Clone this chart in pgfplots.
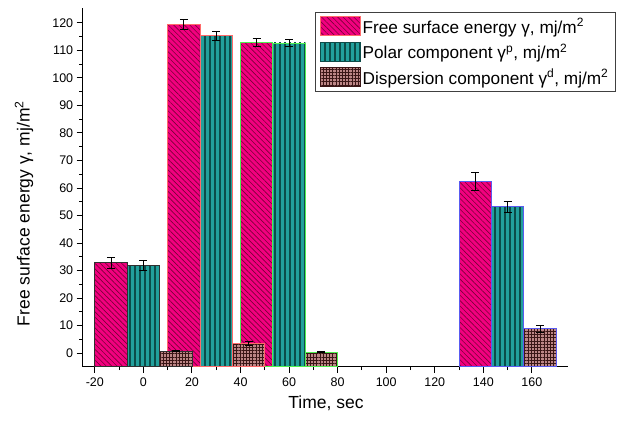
\documentclass[border=0pt]{standalone}
\usepackage{fontspec}
\setmainfont{Liberation Sans}
\usepackage{pgfplots}
\pgfplotsset{compat=1.18}
\usetikzlibrary{patterns.meta}
\definecolor{pinkc}{HTML}{F2007F}
\definecolor{pinkl}{HTML}{7A0038}
\definecolor{tealc}{HTML}{22A09C}
\definecolor{teall}{HTML}{0C4C49}
\definecolor{brownc}{HTML}{BC8686}
\definecolor{brownl}{HTML}{3A1616}
\definecolor{g1}{HTML}{303030}
\definecolor{g2}{HTML}{FF6A6A}
\definecolor{g3}{HTML}{50F050}
\definecolor{g4}{HTML}{5A5AF0}
\tikzset{
  pinkbar/.style={preaction={fill=pinkc}, pattern={Lines[angle=-45,distance=3.8pt,line width=0.65pt]}, pattern color=pinkl, line width=0.9pt},
  tealbar/.style={preaction={fill=tealc}, pattern={Lines[angle=90,distance=5pt,line width=1.2pt]}, pattern color=teall, line width=0.9pt},
  brownbar/.style={preaction={fill=brownc}, pattern={Hatch[angle=0,distance=3.2pt,line width=0.9pt]}, pattern color=brownl, line width=0.9pt}
}
\begin{document}
\begin{tikzpicture}
\useasboundingbox (-82.7pt,-54.3pt) rectangle (543.3pt,366.7pt);
\begin{axis}[
  at={(0,0)}, anchor=south west,
  scale only axis, width=485.6pt, height=358.4pt,
  xmin=-25, xmax=175, ymin=-4.9, ymax=125.3,
  axis lines=left, axis line style={-, line width=1.2pt},
  xtick={-20,0,...,160}, minor x tick num=1,
  ytick={0,10,...,120}, minor y tick num=1,
  tick align=outside, major tick length=6pt, minor tick length=3.5pt,
  every tick/.style={black, line width=1pt},
  tick label style={font=\fontsize{12.5}{14}\selectfont},
  xticklabel style={yshift=-2pt},
  /pgf/number format/assume math mode=true,
  xlabel={Time, sec},
  ylabel={Free surface energy γ, mj/m\textsuperscript{2}},
  label style={font=\fontsize{17.5}{20}\selectfont},
  xlabel style={at={(axis description cs:0.501,-0.101)}, anchor=center},
  ylabel style={at={(axis description cs:-0.121,0.427)}, anchor=center},
  legend style={at={(1.098,0.99)}, anchor=north east, draw=black!75, line width=1pt,
    font=\fontsize{17.2}{20}\selectfont, inner xsep=5pt, inner ysep=4pt, row sep=5pt,
    /tikz/every even column/.append style={column sep=4pt}},
  legend cell align=left,
  legend image code/.code={\draw[#1, line width=0.6pt] (0pt,-9pt) rectangle (40pt,10pt);},
]
\addlegendimage{pinkbar, draw=g2}
\addlegendentry{Free surface energy γ, mj/m\textsuperscript{2}}
\addlegendimage{tealbar, draw=teall}
\addlegendentry{Polar component γ\textsuperscript{p}, mj/m\textsuperscript{2}}
\addlegendimage{brownbar, draw=brownl}
\addlegendentry{Dispersion component γ\textsuperscript{d}, mj/m\textsuperscript{2}}

% free surface energy
\addplot[forget plot, pinkbar, draw=g1] coordinates {(-20,-4.9) (-20,32.9) (-6.7,32.9) (-6.7,-4.9)} -- cycle;
\addplot[forget plot, pinkbar, draw=g2] coordinates {(10,-4.9) (10,119.4) (23.3,119.4) (23.3,-4.9)} -- cycle;
\addplot[forget plot, pinkbar, draw=g3] coordinates {(40,-4.9) (40,113.0) (53.3,113.0) (53.3,-4.9)} -- cycle;
\addplot[forget plot, pinkbar, draw=g4] coordinates {(130,-4.9) (130,62.5) (143.3,62.5) (143.3,-4.9)} -- cycle;
% polar component
\addplot[forget plot, tealbar, draw=g1] coordinates {(-6.7,-4.9) (-6.7,31.9) (6.7,31.9) (6.7,-4.9)} -- cycle;
\addplot[forget plot, tealbar, draw=g2] coordinates {(23.3,-4.9) (23.3,115.3) (36.7,115.3) (36.7,-4.9)} -- cycle;
\addplot[forget plot, tealbar, draw=g3] coordinates {(53.3,-4.9) (53.3,112.7) (66.7,112.7) (66.7,-4.9)} -- cycle;
\addplot[forget plot, tealbar, draw=g4] coordinates {(143.3,-4.9) (143.3,53.2) (156.7,53.2) (156.7,-4.9)} -- cycle;
% dispersion component
\addplot[forget plot, brownbar, draw=g1] coordinates {(6.7,-4.9) (6.7,0.8) (20,0.8) (20,-4.9)} -- cycle;
\addplot[forget plot, brownbar, draw=g2] coordinates {(36.7,-4.9) (36.7,3.6) (50,3.6) (50,-4.9)} -- cycle;
\addplot[forget plot, brownbar, draw=g3] coordinates {(66.7,-4.9) (66.7,0.4) (80,0.4) (80,-4.9)} -- cycle;
\addplot[forget plot, brownbar, draw=g4] coordinates {(156.7,-4.9) (156.7,8.9) (170,8.9) (170,-4.9)} -- cycle;

% error bars
\addplot[forget plot, draw=none, mark=none,
  error bars/.cd, y dir=both, y explicit,
  error bar style={draw=black, line width=0.7pt},
  error mark options={draw=black, rotate=90, mark size=4pt, line width=0.7pt}]
  coordinates {
  (-13.35,32.9) +- (0,2.0)  (16.65,119.4) +- (0,1.9) (46.65,113.0) +- (0,1.5) (136.65,62.5) +- (0,3.3)
  (0,31.9) +- (0,1.9)  (30,115.3) +- (0,1.7) (60,112.7) +- (0,1.4) (150,53.2) +- (0,2.1)
  (13.35,0.8) +- (0,0.2)  (43.35,3.6) +- (0,0.7) (73.35,0.4) +- (0,0.2) (163.35,8.9) +- (0,1.4)
  };
\end{axis}
\end{tikzpicture}
\end{document}
